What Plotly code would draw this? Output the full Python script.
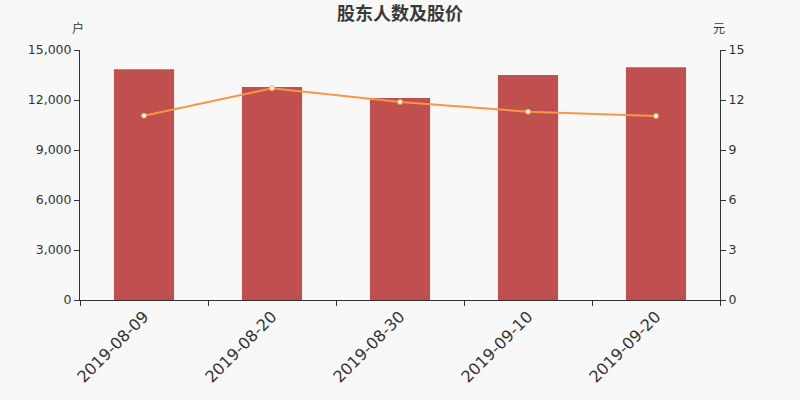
import plotly.graph_objects as go

# Data
dates = ['2019-08-09', '2019-08-20', '2019-08-30', '2019-09-10', '2019-09-20']
holders = [13840, 12780, 12120, 13500, 13960]   # 户
prices = [11.06, 12.70, 11.88, 11.30, 11.04]    # 元

left_ticks = [0, 3000, 6000, 9000, 12000, 15000]
right_ticks = [0, 3, 6, 9, 12, 15]

font_family = "DejaVu Sans, Noto Sans CJK SC"
axis_color = '#333333'

fig = go.Figure()

fig.add_trace(go.Bar(
    x=dates, y=holders, name='股东户数',
    marker=dict(color='#c0504d', line=dict(width=0)),
    width=0.47,
    yaxis='y'
))

fig.add_trace(go.Scatter(
    x=dates, y=prices, name='股价',
    mode='lines+markers',
    line=dict(color='#f79646', width=2),
    marker=dict(size=5, color='white', line=dict(color='#f79646', width=1)),
    yaxis='y2'
))

fig.update_layout(
    width=800, height=400,
    margin=dict(l=80, r=80, t=50, b=100),
    paper_bgcolor='#f8f8f8', plot_bgcolor='#f8f8f8',
    font=dict(family=font_family, color=axis_color, size=12),
    showlegend=False,
    title=dict(text='<b>股东人数及股价</b>', x=0.5, xanchor='center', y=0.965, yanchor='middle',
               font=dict(size=18, color='#3a3a3a', family="Noto Sans CJK SC")),
    xaxis=dict(
        type='category', tickson='boundaries', ticks='outside', ticklen=5,
        tickcolor=axis_color, showline=True, linecolor=axis_color, linewidth=1,
        tickangle=-45, tickfont=dict(size=16, color=axis_color), showgrid=False,
    ),
    yaxis=dict(
        range=[0, 15000], tickvals=left_ticks, tickformat=',d',
        ticks='outside', ticklen=5, tickcolor=axis_color,
        showline=True, linecolor=axis_color, linewidth=1,
        showgrid=False, zeroline=False, tickfont=dict(size=12.5),
    ),
    yaxis2=dict(
        range=[0, 15], tickvals=right_ticks, overlaying='y', side='right',
        ticks='outside', ticklen=5, tickcolor=axis_color,
        showline=True, linecolor=axis_color, linewidth=1,
        showgrid=False, zeroline=False, tickfont=dict(size=12.5),
    ),
    annotations=[
        dict(text='户', x=0, y=1, xref='paper', yref='paper', xanchor='center', yanchor='bottom',
             xshift=-2, yshift=12, showarrow=False, font=dict(size=12, family="Noto Sans CJK SC")),
        dict(text='元', x=1, y=1, xref='paper', yref='paper', xanchor='center', yanchor='bottom',
             xshift=-1, yshift=12, showarrow=False, font=dict(size=12, family="Noto Sans CJK SC")),
    ],
)

# drop the default page margin so the figure sits at the window's corner
fig.write_html("out.html", config={'displayModeBar': False},
               post_script="document.body.style.margin='0';")
